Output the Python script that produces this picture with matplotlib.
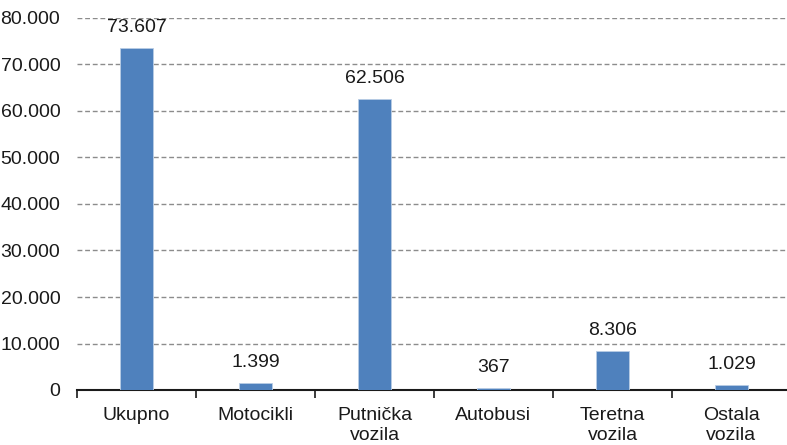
import matplotlib.pyplot as plt
import numpy as np

# categories and values
categories = ['Ukupno', 'Motocikli', 'Putnička\nvozila', 'Autobusi', 'Teretna\nvozila', 'Ostala\nvozila']
values = [73607, 1399, 62506, 367, 8306, 1029]
y_ticks = [0, 10000, 20000, 30000, 40000, 50000, 60000, 70000, 80000]


def fmt(v):
    # dot as thousands separator
    return f'{v:,}'.replace(',', '.')


plt.rcParams['font.family'] = ['Liberation Sans', 'DejaVu Sans']
plt.rcParams['font.size'] = 14

fig = plt.figure(figsize=(7.87, 4.45), dpi=100)
ax = fig.add_axes([77 / 787, 1 - 390 / 445, 714 / 787, (390 - 18) / 445])

x = np.arange(len(categories))
ax.bar(x, values, width=0.28, color='#4f81bd', edgecolor='#b9cde5', linewidth=0.6, zorder=3)

for xi, v in zip(x, values):
    ax.text(xi, v + 2600, fmt(v), ha='center', va='bottom', fontsize=14, color='#1a1a1a')

ax.set_xlim(-0.5, len(categories) - 0.5)
ax.set_ylim(0, 80000)
ax.set_yticks(y_ticks)
ax.set_yticklabels([fmt(t) for t in y_ticks])
ax.tick_params(axis='y', length=0, pad=12, colors='#1a1a1a')

# category labels between boundary ticks
ax.set_xticks(np.arange(len(categories) + 1) - 0.5)
ax.set_xticklabels([])
ax.set_xticks(x, minor=True)
ax.set_xticklabels(categories, minor=True, linespacing=1.25)
ax.tick_params(axis='x', which='major', length=6, width=1.2, direction='out', color='#1a1a1a')
ax.tick_params(axis='x', which='minor', length=0, pad=12, colors='#1a1a1a')

for t in y_ticks[1:]:
    ax.axhline(t, color='#8c8c8c', linestyle=(0, (3.5, 2)), linewidth=1.0, zorder=1)

for s in ['left', 'right', 'top']:
    ax.spines[s].set_visible(False)
ax.spines['bottom'].set_linewidth(1.5)
ax.spines['bottom'].set_color('#1a1a1a')

fig.savefig('out.png', dpi=100)
